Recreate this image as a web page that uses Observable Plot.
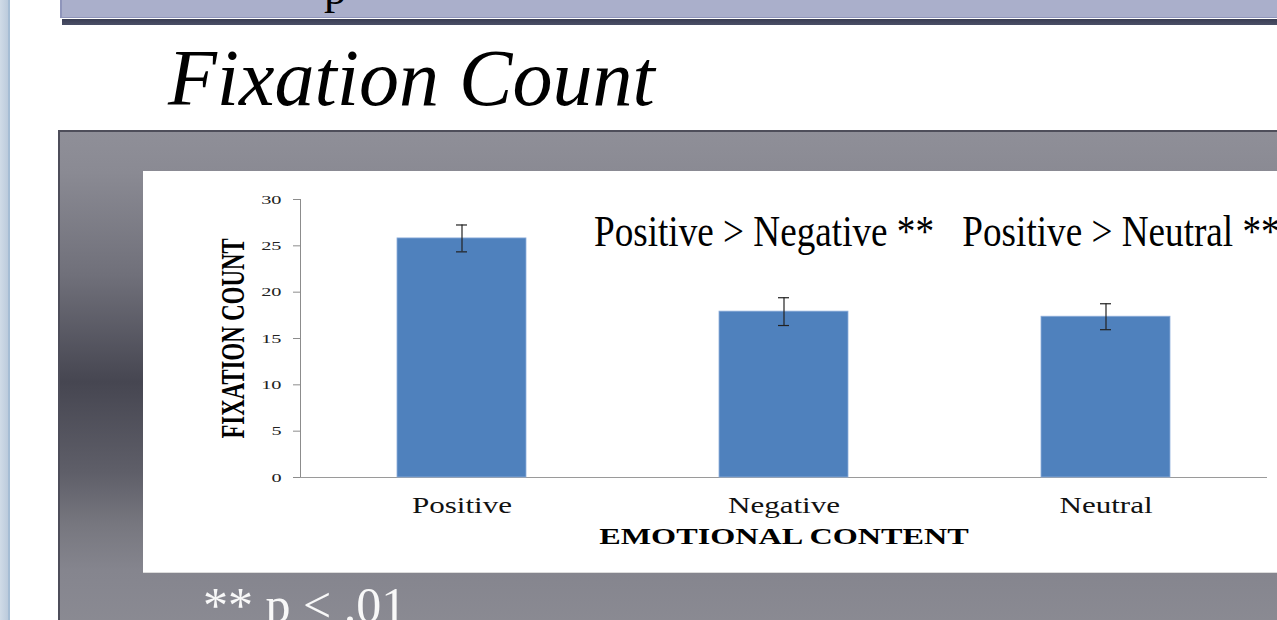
<!DOCTYPE html>
<html><head><meta charset="utf-8">
<script src="https://cdn.jsdelivr.net/npm/d3@7"></script>
<script src="https://cdn.jsdelivr.net/npm/@observablehq/plot@0.6"></script>
<style>
html,body{margin:0;padding:0;width:1277px;height:620px;overflow:hidden;background:#fff;font-family:"Liberation Serif","Times New Roman",serif;}
#strip{position:absolute;left:0;top:0;width:8px;height:620px;background:linear-gradient(90deg,#d0dbe7,#bccbdc);border-right:2px solid #a6bdd4;}
#banner{position:absolute;left:60px;top:-4px;width:1260px;height:21px;background:#aaafcb;border-left:2px solid #8f95bb;border-bottom:1px solid #8f95bb;overflow:hidden;}
#bannerShadow{position:absolute;left:62px;top:19px;width:1260px;height:6px;background:linear-gradient(180deg,#3a3e54,#4a4f66);}
#bannerText{position:absolute;left:324px;top:-33px;font-size:45px;line-height:45px;color:#000;white-space:nowrap;}
#title{position:absolute;left:168px;top:38px;font-size:80px;line-height:80px;font-style:italic;color:#000;white-space:nowrap;}
#panel{position:absolute;left:58px;top:130px;width:1260px;height:510px;border-left:2px solid #4e4e5a;border-top:2px solid #4e4e5a;
 background:linear-gradient(180deg,#8f8f98 0%,#8a8a93 8%,#70707a 28%,#464651 49%,#5f5f69 67%,#77777f 77%,#85858e 86%,#8c8c94 100%);}
#chartbox{position:absolute;left:143px;top:171px;width:1134px;height:401px;background:#fff;border-bottom:1px solid #dcdcdc;}
#note{position:absolute;left:203px;top:580px;font-size:50px;line-height:50px;color:#f8f8f8;white-space:nowrap;}
</style></head>
<body>
<div id="strip"></div>
<div id="banner"></div>
<div id="bannerShadow"></div>
<div id="bannerText">p</div>
<div id="title">Fixation Count</div>
<div id="panel"></div>
<div id="chartbox"></div>
<div id="note">** p &lt; .01</div>
<script>
const categories = ["Positive", "Negative", "Neutral"];
const means = [25.8, 17.9, 17.35];
const errors = [1.45, 1.5, 1.4];
const yTicks = [0, 5, 10, 15, 20, 25, 30];
const annotationLabels = ["Positive > Negative **", "Positive > Neutral **"];
const annotationCategories = ["Negative", "Neutral"];
const annotationLevel = [25, 25];
const xLabel = "EMOTIONAL CONTENT";
const yLabel = "FIXATION COUNT";

const data = categories.map((c, i) => ({category: c, mean: means[i], lo: means[i] - errors[i], hi: means[i] + errors[i]}));
const notes = annotationLabels.map((t, i) => ({text: t, category: annotationCategories[i], y: annotationLevel[i]}));

const chart = Plot.plot({
  width: 1134, height: 401,
  marginLeft: 157, marginRight: 10, marginTop: 28, marginBottom: 95,
  style: {fontFamily: '"Liberation Serif","Times New Roman",serif', background: "white", overflow: "visible", color: "#222"},
  x: {domain: categories, paddingInner: 0.6, paddingOuter: 0.3},
  y: {domain: [0, 30]},
  marks: [
    Plot.frame({anchor: "left", stroke: "#8c8c8c"}),
    Plot.ruleY([0], {stroke: "#9a9a9a"}),
    Plot.axisY(yTicks, {tickSize: 7, tickPadding: 12, fontSize: 13.5, stroke: "#8c8c8c", fill: "#222", label: null}),
    Plot.axisX({tickSize: 0, tickPadding: 19, fontSize: 23, fill: "#111", label: null}),
    Plot.barY(data, {x: "category", y: "mean", fill: "#4f81bd", stroke: "#8eaedb", strokeWidth: 0.8}),
    Plot.ruleX(data, {x: "category", y1: "lo", y2: "hi", stroke: "#222", strokeWidth: 1.2}),
    Plot.tickY(data, {x: "category", y: "lo", insetLeft: 59, insetRight: 59, stroke: "#222", strokeWidth: 1.2}),
    Plot.tickY(data, {x: "category", y: "hi", insetLeft: 59, insetRight: 59, stroke: "#222", strokeWidth: 1.2}),
    Plot.text(notes.slice(0, 1), {x: "category", y: "y", text: "text", fontSize: 44, lineAnchor: "bottom", textAnchor: "middle", dx: -20, fill: "#000"}),
    Plot.text(notes.slice(1), {x: "category", y: "y", text: "text", fontSize: 44, lineAnchor: "bottom", textAnchor: "middle", dx: 15, fill: "#000"}),
    Plot.text([xLabel], {frameAnchor: "bottom", text: d => d, dy: 66, lineAnchor: "bottom", textAnchor: "middle", fontSize: 23, fontWeight: "bold", fill: "#000"}),
    Plot.text([yLabel], {frameAnchor: "left", text: d => d, rotate: -90, dx: -67, textAnchor: "middle", lineAnchor: "middle", fontSize: 34, fontWeight: "bold", fill: "#000"})
  ]
});
document.getElementById("chartbox").append(chart);

// horizontal stretch / squeeze of the chart's texts, matched by content
const factors = new Map();
yTicks.forEach(t => factors.set(String(t), 1.5));
categories.forEach(c => factors.set(c, 1.35));
factors.set(xLabel, 1.4);
factors.set(yLabel, 0.67);
annotationLabels.forEach(a => factors.set(a, 0.845));
chart.querySelectorAll("text").forEach(t => {
  const k = factors.get(t.textContent.trim());
  if (k === undefined) return;
  const w = t.getComputedTextLength();
  if (w > 0) {
    t.setAttribute("textLength", (w * k).toFixed(1));
    t.setAttribute("lengthAdjust", "spacingAndGlyphs");
  }
});
</script>
</body></html>
